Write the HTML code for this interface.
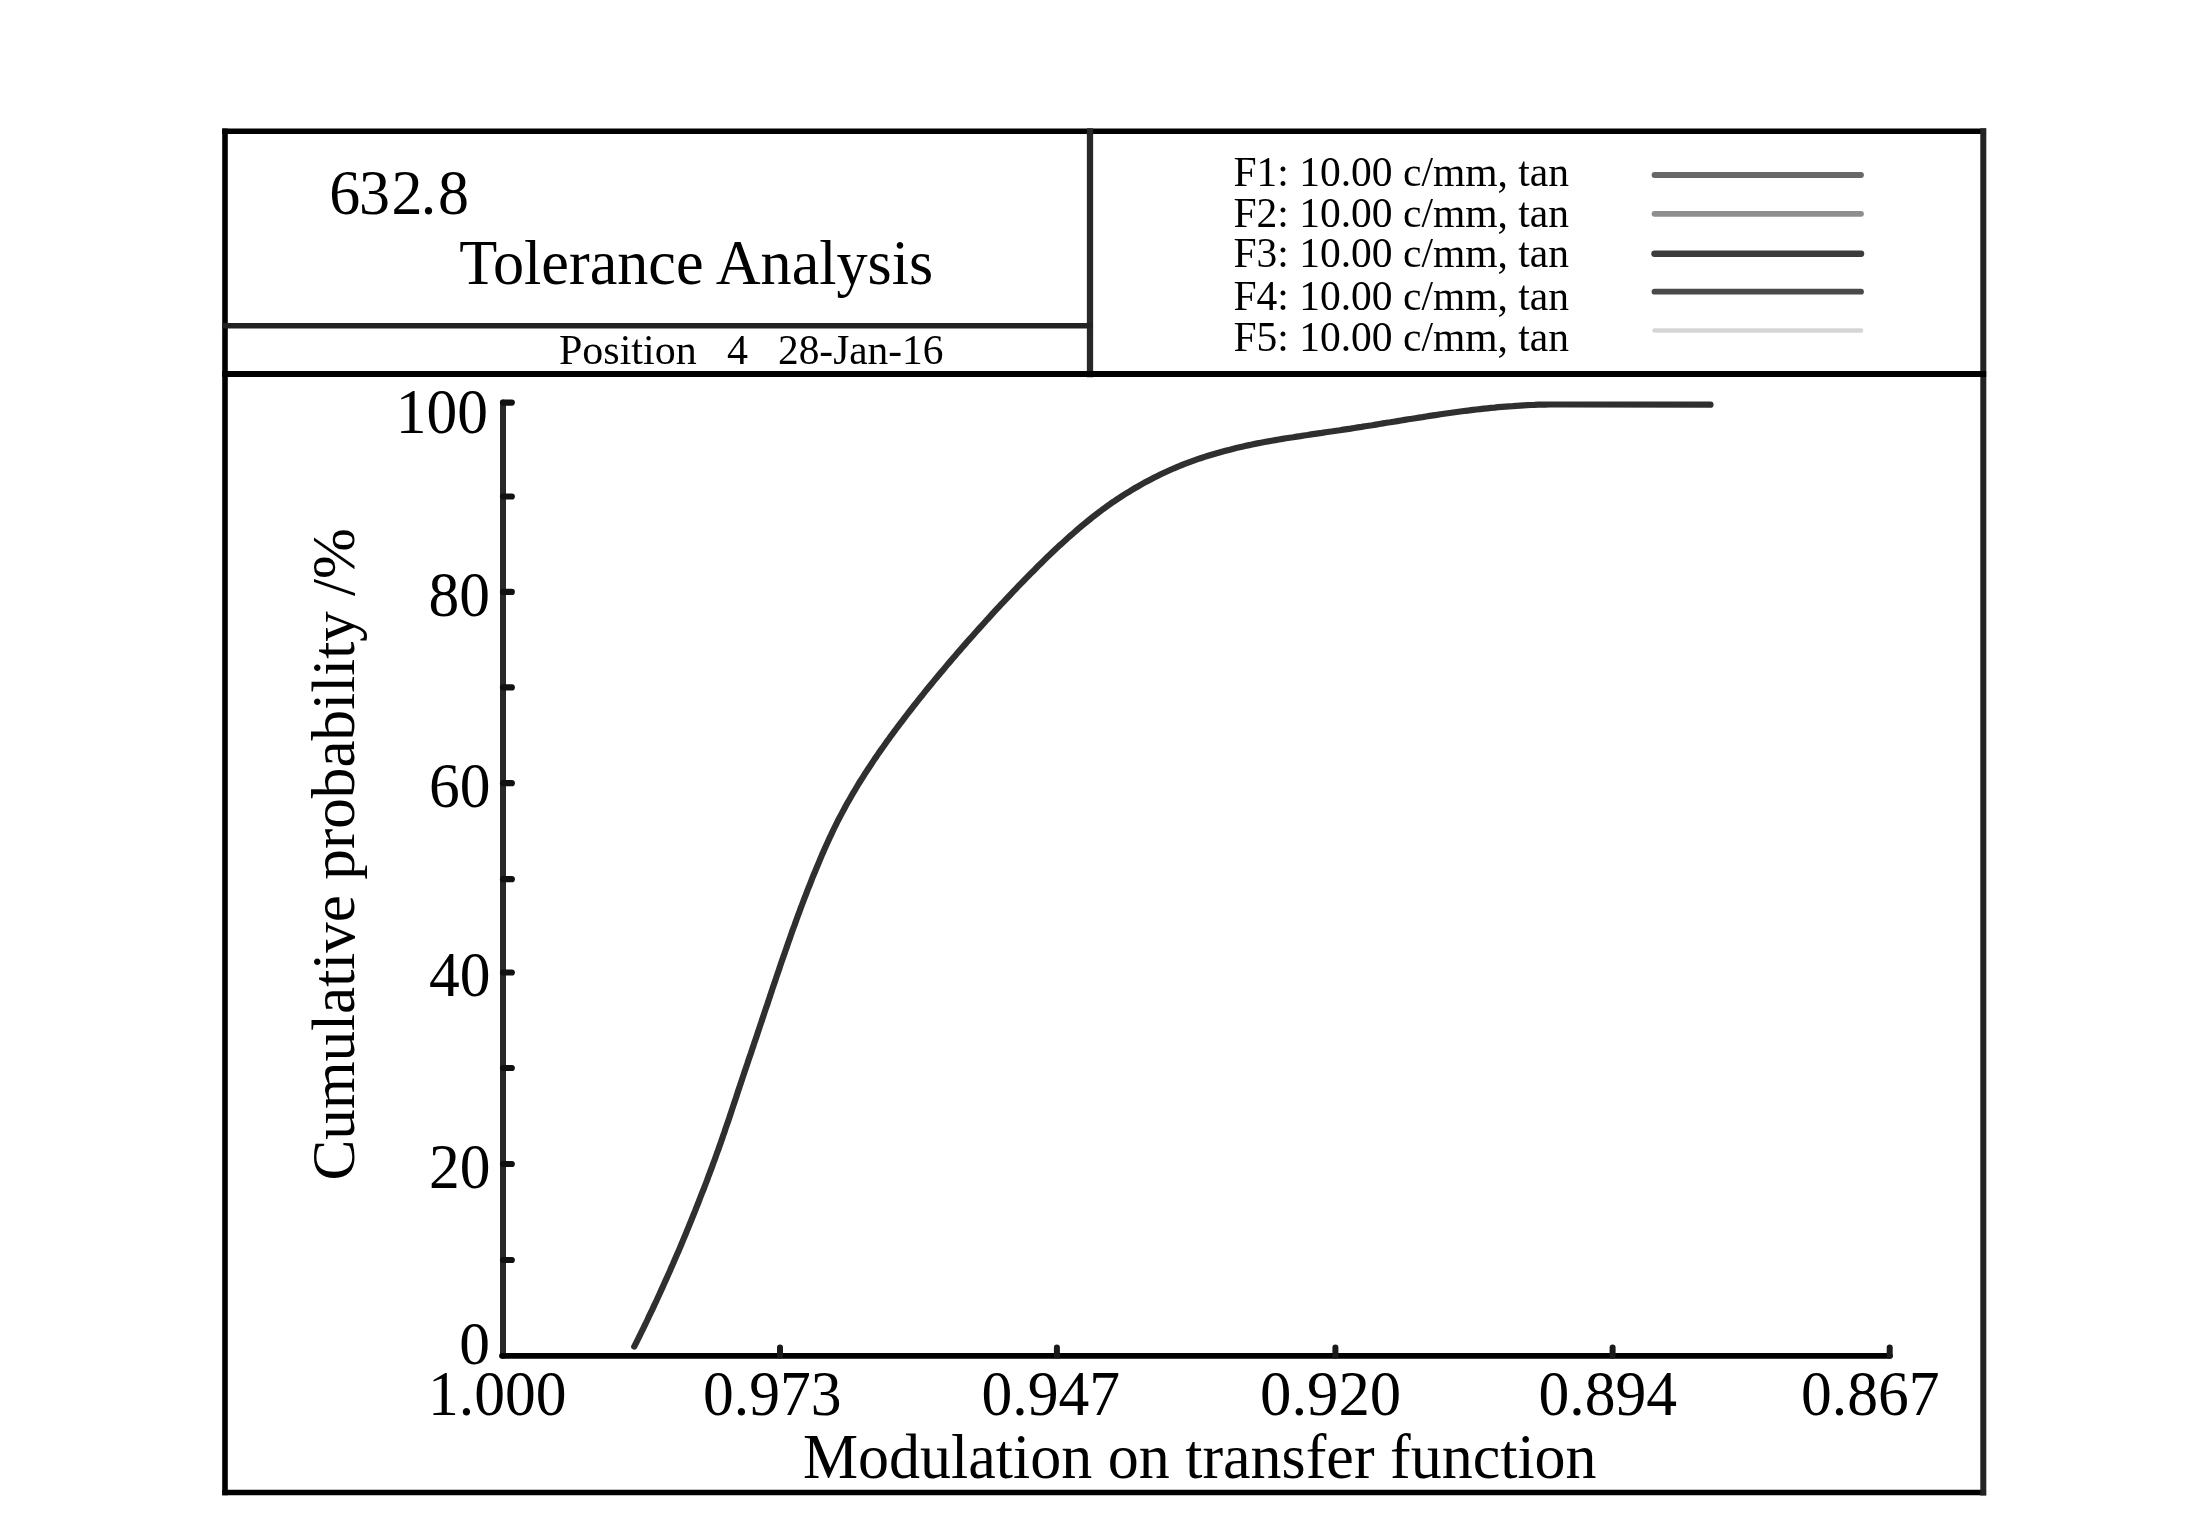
<!DOCTYPE html>
<html><head><meta charset="utf-8"><style>
html,body{margin:0;padding:0;background:#fff;overflow:hidden;width:2191px;height:1519px;}
svg{display:block;will-change:transform;}
text{font-family:"Liberation Serif",serif;fill:#000;}
</style></head><body>
<svg width="2191" height="1519" viewBox="0 0 2191 1519">
<rect x="0" y="0" width="2191" height="1519" fill="#fff"/>
<g fill="none" stroke-linecap="square">
<line x1="225" y1="131.3" x2="1983.3" y2="131.3" stroke="#000" stroke-width="5.5"/>
<line x1="225" y1="1492.4" x2="1983.3" y2="1492.4" stroke="#000" stroke-width="5.5"/>
<line x1="225" y1="131.3" x2="225" y2="1492.4" stroke="#000" stroke-width="5.6"/>
<line x1="1983.3" y1="131.3" x2="1983.3" y2="1492.4" stroke="#232323" stroke-width="6"/>
<line x1="1090" y1="131.3" x2="1090" y2="374" stroke="#282828" stroke-width="6.3"/>
<line x1="225" y1="325.8" x2="1090" y2="325.8" stroke="#222" stroke-width="5.6"/>
<line x1="225" y1="374" x2="1983.3" y2="374" stroke="#000" stroke-width="5.8"/>
</g>
<g fill="none" stroke-linecap="round" stroke-width="5.8">
<line x1="1654.5" y1="175" x2="1861" y2="175" stroke="#686868"/>
<line x1="1654.5" y1="213.8" x2="1861" y2="213.8" stroke="#8e8e8e"/>
<line x1="1654.5" y1="253.7" x2="1861" y2="253.7" stroke="#3c3c3c" stroke-width="6.5"/>
<line x1="1654.5" y1="291.7" x2="1861" y2="291.7" stroke="#494949"/>
<line x1="1654.5" y1="330.5" x2="1861" y2="330.5" stroke="#d6d6d6" stroke-width="4.6"/>
</g>
<g fill="none" stroke-linecap="round">
<line x1="503" y1="402.6" x2="503" y2="1355.8" stroke="#282828" stroke-width="6"/>
<line x1="502" y1="1355.8" x2="1890" y2="1355.8" stroke="#000" stroke-width="5.8"/>
<g stroke-width="6.2" stroke="#111"><line x1="503" y1="402.6" x2="511.8" y2="402.6"/><line x1="503" y1="496.5" x2="511.8" y2="496.5"/><line x1="503" y1="591.9" x2="511.8" y2="591.9"/><line x1="503" y1="687.4" x2="511.8" y2="687.4"/><line x1="503" y1="783.2" x2="511.8" y2="783.2"/><line x1="503" y1="879.2" x2="511.8" y2="879.2"/><line x1="503" y1="972.5" x2="511.8" y2="972.5"/><line x1="503" y1="1068" x2="511.8" y2="1068"/><line x1="503" y1="1164" x2="511.8" y2="1164"/><line x1="503" y1="1260" x2="511.8" y2="1260"/></g>
<g stroke-width="6" stroke="#1a1a1a"><line x1="780" y1="1347.5" x2="780" y2="1355.8"/><line x1="1056.9" y1="1347.5" x2="1056.9" y2="1355.8"/><line x1="1335.4" y1="1347.5" x2="1335.4" y2="1355.8"/><line x1="1612.6" y1="1347.5" x2="1612.6" y2="1355.8"/><line x1="1889.7" y1="1347.5" x2="1889.7" y2="1355.8"/></g>
</g>
<path d="M634.2,1346.6 L635.9,1343.3 L637.5,1340.1 L639.1,1336.8 L640.7,1333.6 L642.3,1330.3 L643.9,1327.1 L645.5,1323.8 L647.1,1320.5 L648.6,1317.2 L650.2,1313.9 L651.8,1310.7 L653.3,1307.4 L654.8,1304.1 L656.4,1300.8 L657.9,1297.5 L659.4,1294.2 L660.9,1290.9 L662.4,1287.6 L663.9,1284.2 L665.4,1280.9 L666.9,1277.6 L668.4,1274.3 L669.9,1271.0 L671.3,1267.6 L672.8,1264.3 L674.2,1261.0 L675.7,1257.6 L677.1,1254.3 L678.6,1250.9 L680.0,1247.6 L681.4,1244.2 L682.8,1240.9 L684.2,1237.5 L685.6,1234.2 L687.0,1230.8 L688.4,1227.4 L689.7,1224.1 L691.1,1220.7 L692.5,1217.3 L693.8,1214.0 L695.2,1210.6 L696.5,1207.2 L697.9,1203.8 L699.2,1200.4 L700.5,1197.0 L701.8,1193.6 L703.2,1190.3 L704.5,1186.9 L705.8,1183.5 L707.1,1180.1 L708.3,1176.7 L709.6,1173.3 L710.9,1169.8 L712.2,1166.4 L713.4,1163.0 L714.7,1159.6 L715.9,1156.2 L717.1,1152.8 L718.4,1149.3 L719.6,1145.9 L720.8,1142.5 L722.0,1139.1 L723.2,1135.6 L724.4,1132.2 L725.5,1128.7 L726.7,1125.3 L727.9,1121.9 L729.1,1118.4 L730.2,1115.0 L731.4,1111.5 L732.5,1108.1 L733.7,1104.6 L734.8,1101.2 L736.0,1097.7 L737.1,1094.3 L738.2,1090.8 L739.4,1087.4 L740.5,1084.0 L741.7,1080.5 L742.8,1077.1 L744.0,1073.6 L745.1,1070.2 L746.3,1066.7 L747.5,1063.3 L748.6,1059.8 L749.8,1056.4 L751.0,1053.0 L752.1,1049.5 L753.3,1046.1 L754.4,1042.6 L755.6,1039.2 L756.8,1035.7 L757.9,1032.3 L759.1,1028.8 L760.2,1025.4 L761.4,1021.9 L762.5,1018.5 L763.7,1015.0 L764.8,1011.6 L766.0,1008.1 L767.2,1004.7 L768.3,1001.2 L769.5,997.8 L770.6,994.3 L771.8,990.9 L772.9,987.4 L774.1,984.0 L775.3,980.5 L776.4,977.1 L777.6,973.6 L778.8,970.2 L779.9,966.7 L781.1,963.3 L782.3,959.8 L783.5,956.4 L784.7,952.9 L785.9,949.5 L787.1,946.1 L788.3,942.6 L789.5,939.2 L790.7,935.8 L791.9,932.3 L793.1,928.9 L794.4,925.5 L795.6,922.1 L796.8,918.7 L798.1,915.2 L799.4,911.8 L800.6,908.4 L801.9,905.0 L803.2,901.6 L804.5,898.2 L805.8,894.8 L807.1,891.4 L808.4,888.0 L809.8,884.7 L811.1,881.3 L812.4,877.9 L813.8,874.5 L815.2,871.2 L816.6,867.8 L818.0,864.5 L819.4,861.1 L820.8,857.8 L822.2,854.4 L823.7,851.1 L825.1,847.8 L826.6,844.5 L828.1,841.2 L829.6,837.9 L831.2,834.6 L832.7,831.3 L834.3,828.0 L835.9,824.8 L837.5,821.5 L839.2,818.3 L840.9,815.1 L842.6,811.9 L844.3,808.7 L846.0,805.5 L847.8,802.3 L849.6,799.2 L851.4,796.0 L853.2,792.9 L855.1,789.8 L856.9,786.7 L858.8,783.5 L860.7,780.5 L862.7,777.4 L864.6,774.3 L866.6,771.3 L868.6,768.2 L870.6,765.2 L872.6,762.1 L874.6,759.1 L876.7,756.1 L878.7,753.1 L880.8,750.1 L882.9,747.2 L885.0,744.2 L887.1,741.2 L889.3,738.3 L891.4,735.3 L893.6,732.4 L895.7,729.5 L897.9,726.6 L900.1,723.7 L902.3,720.8 L904.5,717.9 L906.7,715.0 L908.9,712.1 L911.2,709.2 L913.4,706.3 L915.7,703.5 L917.9,700.6 L920.2,697.8 L922.5,695.0 L924.7,692.1 L927.0,689.3 L929.3,686.5 L931.6,683.7 L933.9,680.9 L936.3,678.1 L938.6,675.3 L940.9,672.5 L943.3,669.7 L945.6,666.9 L947.9,664.1 L950.3,661.4 L952.7,658.6 L955.0,655.9 L957.4,653.1 L959.8,650.4 L962.2,647.6 L964.6,644.9 L967.0,642.1 L969.4,639.4 L971.8,636.7 L974.2,634.0 L976.6,631.3 L979.0,628.6 L981.5,625.9 L983.9,623.2 L986.3,620.5 L988.8,617.8 L991.2,615.1 L993.7,612.4 L996.2,609.7 L998.6,607.1 L1001.1,604.4 L1003.6,601.8 L1006.1,599.1 L1008.6,596.5 L1011.1,593.8 L1013.6,591.2 L1016.1,588.6 L1018.6,585.9 L1021.1,583.3 L1023.7,580.7 L1026.2,578.1 L1028.8,575.5 L1031.3,572.9 L1033.9,570.4 L1036.5,567.8 L1039.0,565.2 L1041.6,562.7 L1044.2,560.1 L1046.8,557.6 L1049.5,555.1 L1052.1,552.6 L1054.7,550.1 L1057.4,547.6 L1060.0,545.1 L1062.7,542.7 L1065.4,540.2 L1068.1,537.8 L1070.8,535.4 L1073.6,533.0 L1076.3,530.6 L1079.1,528.2 L1081.8,525.9 L1084.6,523.6 L1087.5,521.3 L1090.3,519.0 L1093.1,516.7 L1096.0,514.5 L1098.9,512.3 L1101.8,510.1 L1104.7,508.0 L1107.7,505.8 L1110.6,503.7 L1113.6,501.7 L1116.6,499.6 L1119.7,497.6 L1122.7,495.6 L1125.8,493.7 L1128.9,491.8 L1132.0,489.9 L1135.1,488.0 L1138.3,486.2 L1141.5,484.4 L1144.6,482.6 L1147.8,480.9 L1151.1,479.2 L1154.3,477.5 L1157.5,475.9 L1160.8,474.3 L1164.1,472.8 L1167.4,471.3 L1170.7,469.8 L1174.0,468.3 L1177.4,466.9 L1180.7,465.5 L1184.1,464.2 L1187.5,462.9 L1190.9,461.6 L1194.3,460.4 L1197.7,459.2 L1201.2,458.0 L1204.6,456.9 L1208.1,455.8 L1211.6,454.7 L1215.0,453.7 L1218.5,452.7 L1222.0,451.7 L1225.5,450.8 L1229.0,449.9 L1232.6,449.0 L1236.1,448.1 L1239.6,447.3 L1243.2,446.4 L1246.7,445.6 L1250.3,444.9 L1253.8,444.1 L1257.4,443.4 L1261.0,442.7 L1264.5,442.0 L1268.1,441.4 L1271.7,440.7 L1275.3,440.1 L1278.9,439.5 L1282.5,438.9 L1286.0,438.3 L1289.6,437.7 L1293.2,437.2 L1296.8,436.6 L1300.4,436.1 L1304.0,435.5 L1307.6,435.0 L1311.2,434.4 L1314.8,433.9 L1318.4,433.4 L1322.0,432.9 L1325.6,432.3 L1329.1,431.8 L1332.7,431.3 L1336.3,430.7 L1339.9,430.2 L1343.5,429.6 L1347.1,429.1 L1350.7,428.6 L1354.3,428.0 L1357.9,427.4 L1361.5,426.9 L1365.1,426.3 L1368.7,425.7 L1372.3,425.2 L1375.8,424.6 L1379.4,424.0 L1383.0,423.4 L1386.6,422.8 L1390.2,422.3 L1393.8,421.7 L1397.4,421.1 L1401.0,420.5 L1404.6,419.9 L1408.2,419.3 L1411.8,418.8 L1415.4,418.2 L1418.9,417.6 L1422.5,417.1 L1426.1,416.5 L1429.7,415.9 L1433.3,415.4 L1436.9,414.9 L1440.5,414.3 L1444.1,413.8 L1447.7,413.3 L1451.3,412.8 L1454.9,412.3 L1458.5,411.8 L1462.1,411.3 L1465.7,410.8 L1469.3,410.4 L1473.0,409.9 L1476.6,409.5 L1480.2,409.1 L1483.8,408.7 L1487.4,408.3 L1491.0,407.9 L1494.6,407.6 L1498.2,407.2 L1501.9,406.9 L1505.5,406.6 L1509.1,406.3 L1512.7,406.1 L1516.4,405.8 L1520.0,405.6 L1523.6,405.4 L1527.2,405.2 L1530.9,405.0 L1534.5,404.9 L1538.2,404.7 L1541.8,404.6 L1545.4,404.6 L1549.1,404.5 L1552.7,404.5 L1556.4,404.5 L1560.0,404.5 L1710.5,404.7" fill="none" stroke="#2f2f2f" stroke-width="6.2" stroke-linejoin="round" stroke-linecap="round"/>
<text transform="translate(329.3,214.2) scale(1.0,1.025)" x="0.00 29.70 62.10 91.35 108.70" y="0" font-size="62">632.8</text>
<text transform="translate(459.3,284) scale(1.0,1.01)" x="0" y="0" font-size="62.2">Tolerance Analysis</text>
<text transform="translate(559,364.2)" x="0" y="0" font-size="42">Position</text>
<text transform="translate(727,364.2)" x="0" y="0" font-size="42">4</text>
<text transform="translate(778,364.2) scale(0.985,1.0)" x="0" y="0" font-size="42">28-Jan-16</text>
<text transform="translate(1233.5,185.8)" x="0" y="0" font-size="41.5">F1: 10.00 c/mm, tan</text>
<text transform="translate(1233.5,226.8)" x="0" y="0" font-size="41.5">F2: 10.00 c/mm, tan</text>
<text transform="translate(1233.5,267.4)" x="0" y="0" font-size="41.5">F3: 10.00 c/mm, tan</text>
<text transform="translate(1233.5,309.6)" x="0" y="0" font-size="41.5">F4: 10.00 c/mm, tan</text>
<text transform="translate(1233.5,351)" x="0" y="0" font-size="41.5">F5: 10.00 c/mm, tan</text>
<text transform="translate(488,433.3) scale(1.0,1.03)" x="0" y="0" font-size="61.5" text-anchor="end">100</text>
<text transform="translate(490,615.6) scale(1.0,1.03)" x="0" y="0" font-size="61.5" text-anchor="end">80</text>
<text transform="translate(490.5,807.4) scale(1.0,1.03)" x="0" y="0" font-size="61.5" text-anchor="end">60</text>
<text transform="translate(490.5,996.4) scale(1.0,1.03)" x="0" y="0" font-size="61.5" text-anchor="end">40</text>
<text transform="translate(490.5,1188.2) scale(1.0,1.03)" x="0" y="0" font-size="61.5" text-anchor="end">20</text>
<text transform="translate(490,1364.3)" x="0" y="0" font-size="61.5" text-anchor="end">0</text>
<text transform="translate(428,1414.6) scale(1.0,1.025)" x="0" y="0" font-size="61.6">1.000</text>
<text transform="translate(703,1414.6) scale(1.0,1.025)" x="0" y="0" font-size="61.6">0.973</text>
<text transform="translate(981.5,1414.6) scale(1.0,1.025)" x="0" y="0" font-size="61.6">0.947</text>
<text transform="translate(1260,1414.6) scale(1.019,1.025)" x="0" y="0" font-size="61.6">0.920</text>
<text transform="translate(1538.5,1414.6) scale(1.0,1.025)" x="0" y="0" font-size="61.6">0.894</text>
<text transform="translate(1801,1414.6) scale(1.0,1.025)" x="0" y="0" font-size="61.6">0.867</text>
<text transform="translate(803,1478) scale(1.0,1.015)" x="0" y="0" font-size="62">Modulation on transfer function</text>
<text transform="translate(354,1180.5) rotate(-90)" x="0" y="0" font-size="61.2">Cumulative probability /%</text>
</svg>
</body></html>
